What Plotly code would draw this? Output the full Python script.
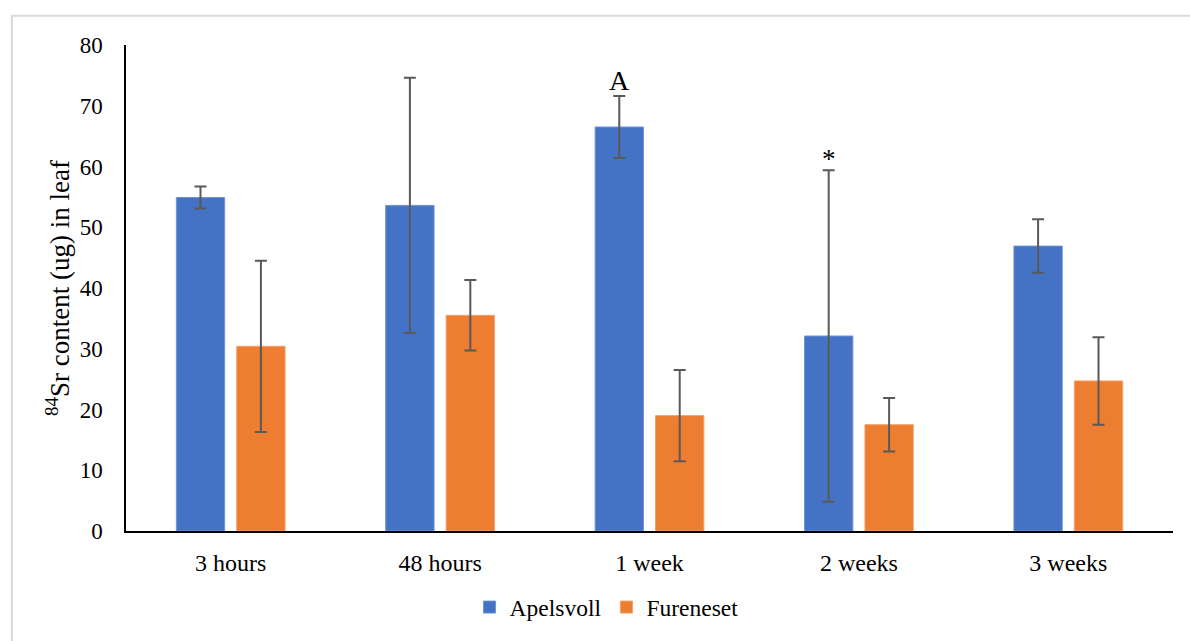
import plotly.graph_objects as go

# Sampling times and 84Sr content in leaf (ug), mean and error per site
times = ["3 hours", "48 hours", "1 week", "2 weeks", "3 weeks"]
apelsvoll = [54.9, 53.6, 66.5, 32.1, 46.9]
apelsvoll_err = [1.8, 21.0, 5.1, 27.3, 4.4]
fureneset = [30.4, 35.5, 19.0, 17.5, 24.7]
fureneset_err = [14.1, 5.8, 7.5, 4.4, 7.2]
y_ticks = [0, 10, 20, 30, 40, 50, 60, 70, 80]

# Significance markers: (time, height, text, font size)
marks = [("1 week", 74.2, "A", 28), ("2 weeks", 61.3, "*", 27)]

FONT = "Liberation Serif, Times New Roman, serif"
ERR_COLOR = "#595959"

fig = go.Figure()
fig.add_trace(go.Bar(
    x=times, y=apelsvoll, name="Apelsvoll",
    marker=dict(color="#4472C4", line=dict(color="#6f93d6", width=1)),
    error_y=dict(type="data", array=apelsvoll_err, visible=True,
                 color=ERR_COLOR, thickness=2, width=6),
))
fig.add_trace(go.Bar(
    x=times, y=fureneset, name="Fureneset",
    marker=dict(color="#ED7D31", line=dict(color="#f3a06a", width=1)),
    error_y=dict(type="data", array=fureneset_err, visible=True,
                 color=ERR_COLOR, thickness=2, width=6),
))

for t, h, txt, sz in marks:
    fig.add_annotation(x=t, y=h, text=txt, showarrow=False, xshift=-30,
                       yanchor="middle",
                       font=dict(family=FONT, size=sz, color="#000000"))

# Light grey frame around the whole chart area
fig.add_shape(type="rect", xref="paper", yref="paper",
              x0=-0.109, y0=-0.25, x1=1.03, y1=1.06,
              line=dict(color="#d9d9d9", width=2), layer="below")

fig.update_layout(
    width=1190, height=641,
    margin=dict(l=126, r=17, t=45, b=105),
    paper_bgcolor="white", plot_bgcolor="white",
    barmode="group", bargap=0.423, bargroupgap=0.2,
    font=dict(family=FONT, size=23, color="#000000"),
    showlegend=True,
    legend=dict(orientation="h", x=0.459, xanchor="center",
                y=-0.157, yanchor="middle",
                font=dict(family=FONT, size=23.5, color="#000000"),
                itemwidth=30, tracegroupgap=0),
    xaxis=dict(showline=True, linecolor="#000000", linewidth=2,
               ticks="", showgrid=False, ticklabelstandoff=9,
               tickfont=dict(family=FONT, size=24)),
    yaxis=dict(range=[0, 80], tickvals=y_ticks, showline=True,
               linecolor="#000000", linewidth=1.5, ticks="",
               showgrid=False, zeroline=False, ticklabelstandoff=17,
               tickfont=dict(family=FONT, size=23),
               title=dict(text="<sup>84</sup>Sr content (ug) in leaf",
                          font=dict(family=FONT, size=27), standoff=2)),
)

fig.write_html("out.html")
